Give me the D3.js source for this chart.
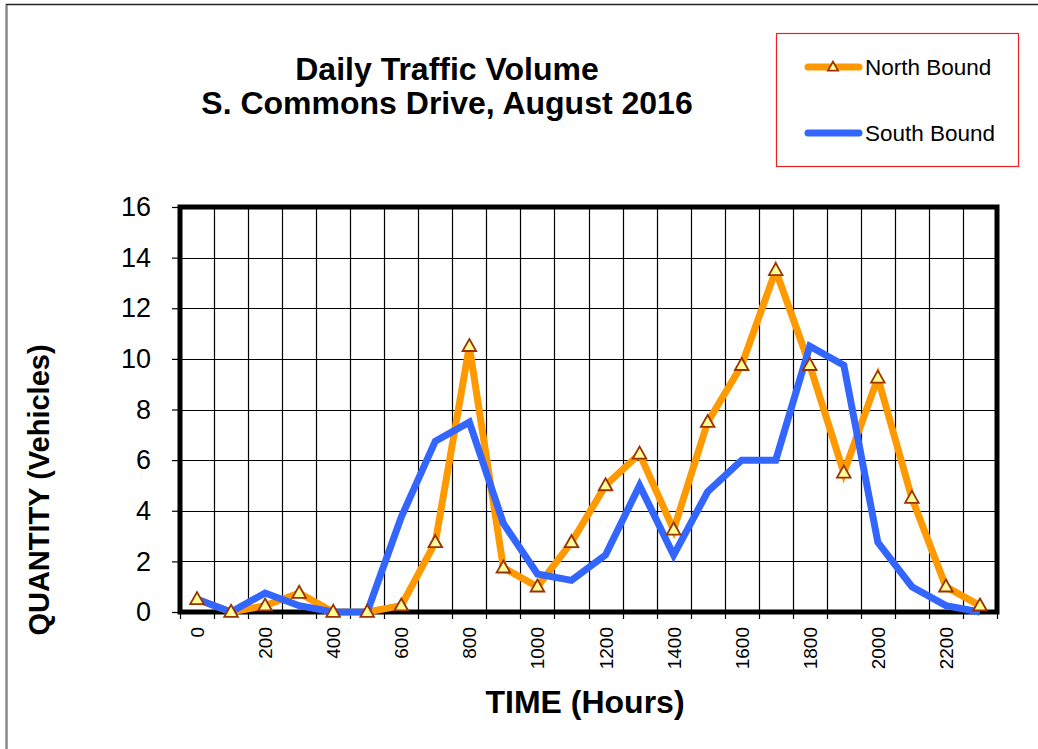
<!DOCTYPE html>
<html><head><meta charset="utf-8">
<script src="https://cdn.jsdelivr.net/npm/d3@7"></script>
<style>body{margin:0;background:#fff}svg{display:block}text{font-family:"Liberation Sans",Arial,sans-serif}</style>
</head><body>
<svg id="c" width="1038" height="749"></svg>
<script>
const hours = [0,100,200,300,400,500,600,700,800,900,1000,1100,1200,1300,1400,1500,1600,1700,1800,1900,2000,2100,2200,2300];
const northBound = [0.5,0,0.25,0.75,0,0,0.25,2.75,10.5,1.75,1,2.75,5,6.25,3.25,7.5,9.75,13.5,9.75,5.5,9.25,4.5,1,0.25];
const southBound = [0.5,0,0.75,0.25,0,0,3.75,6.75,7.5,3.5,1.5,1.25,2.25,5,2.25,4.75,6,6,10.5,9.75,2.75,1,0.25,0];
const yTicks = [0,2,4,6,8,10,12,14,16];
const xTickLabels = [0,200,400,600,800,1000,1200,1400,1600,1800,2000,2200];
const seriesNames = ["North Bound","South Bound"];

const svg = d3.select("#c");
const L=180, R=997, T=207, B=612;
const x = d3.scaleBand().domain(hours).range([L,R]).padding(0);
const y = d3.scaleLinear().domain([0,16]).range([B,T]);
const cx = h => x(h)+x.bandwidth()/2;

// outer frame
svg.append("path").attr("d","M6.5,760 V4.5 H1045").attr("fill","none").attr("stroke","#222").attr("stroke-width",1.5);
svg.append("line").attr("x1",6.5).attr("x2",6.5).attr("y1",5).attr("y2",760).attr("stroke","#888").attr("stroke-width",2);

// grid
const g = svg.append("g");
g.selectAll(".vg").data(hours.slice(1)).join("line")
  .attr("x1",d=>Math.round(x(d))+0.5).attr("x2",d=>Math.round(x(d))+0.5)
  .attr("y1",T).attr("y2",B).attr("stroke","#000").attr("stroke-width",1.2);
g.selectAll(".hg").data(yTicks.slice(1,-1)).join("line")
  .attr("x1",L).attr("x2",R)
  .attr("y1",d=>Math.round(y(d))+0.5).attr("y2",d=>Math.round(y(d))+0.5)
  .attr("stroke","#000").attr("stroke-width",1.2);

// y axis ticks & labels
const yAxis = d3.axisLeft(y).tickValues(yTicks).tickSize(8).tickPadding(21);
const ya = svg.append("g").attr("transform",`translate(${L},0)`).call(yAxis);
ya.select(".domain").remove();
ya.selectAll("line").attr("stroke","#000").attr("stroke-width",1.2);
ya.selectAll("text").attr("font-size",27).attr("fill","#000").attr("font-family","Liberation Sans, Arial, sans-serif");

// x axis ticks (at boundaries)
svg.selectAll(".xt").data(hours.concat(["end"])).join("line")
  .attr("x1",(d,i)=>Math.round(L + i*x.bandwidth())+0.5).attr("x2",(d,i)=>Math.round(L + i*x.bandwidth())+0.5)
  .attr("y1",B).attr("y2",B+7).attr("stroke","#000").attr("stroke-width",1.2);
svg.selectAll(".xl").data(xTickLabels).join("text")
  .attr("transform",d=>`translate(${cx(d)+7},${B+15}) rotate(-90)`)
  .attr("text-anchor","end").attr("font-size",19).attr("fill","#000").text(d=>d);

// plot border
svg.append("rect").attr("x",L).attr("y",T).attr("width",R-L).attr("height",B-T)
  .attr("fill","none").attr("stroke","#000").attr("stroke-width",5);

// lines
const line = d3.line().x((d,i)=>cx(hours[i])).y(d=>y(d));
svg.append("path").attr("d",line(northBound)).attr("fill","none").attr("stroke","#FF9900").attr("stroke-width",7).attr("stroke-linejoin","miter");
svg.append("path").attr("d",line(southBound)).attr("fill","none").attr("stroke","#3366FF").attr("stroke-width",7).attr("stroke-linejoin","miter");

// markers
const tri = (px,py,s)=>`M${px},${py-s*0.9} L${px+s*0.85},${py+s*0.6} L${px-s*0.85},${py+s*0.6} Z`;
svg.selectAll(".m").data(northBound).join("path")
  .attr("d",(d,i)=>tri(cx(hours[i]),y(d),8)).attr("fill","#FFFF99").attr("stroke","#993300").attr("stroke-width",1.8);

// titles
svg.append("text").attr("x",447).attr("y",80).attr("text-anchor","middle").attr("font-size",32).attr("font-weight","bold").text("Daily Traffic Volume");
svg.append("text").attr("x",447).attr("y",114).attr("text-anchor","middle").attr("font-size",32).attr("font-weight","bold").text("S. Commons Drive, August 2016");
svg.append("text").attr("x",585).attr("y",713).attr("text-anchor","middle").attr("font-size",32).attr("font-weight","bold").text("TIME (Hours)");
svg.append("text").attr("transform","translate(49,490) rotate(-90)").attr("text-anchor","middle").attr("font-size",29).attr("font-weight","bold").text("QUANTITY (Vehicles)");

// legend
svg.append("rect").attr("x",776.5).attr("y",33.5).attr("width",242).attr("height",133).attr("fill","#fff").attr("stroke","#EE2222").attr("stroke-width",1.2);
const lg = [{name:seriesNames[0],c:"#FF9900",y:67,m:true},{name:seriesNames[1],c:"#3366FF",y:133,m:false}];
lg.forEach(o=>{
  svg.append("line").attr("x1",808).attr("x2",859).attr("y1",o.y).attr("y2",o.y).attr("stroke",o.c).attr("stroke-width",7).attr("stroke-linecap","round");
  if(o.m) svg.append("path").attr("d",tri(833,o.y,6)).attr("fill","#FFFF99").attr("stroke","#993300").attr("stroke-width",1.8);
  svg.append("text").attr("x",865).attr("y",o.y+8).attr("font-size",22.5).attr("fill","#000").text(o.name);
});
</script>
</body></html>
